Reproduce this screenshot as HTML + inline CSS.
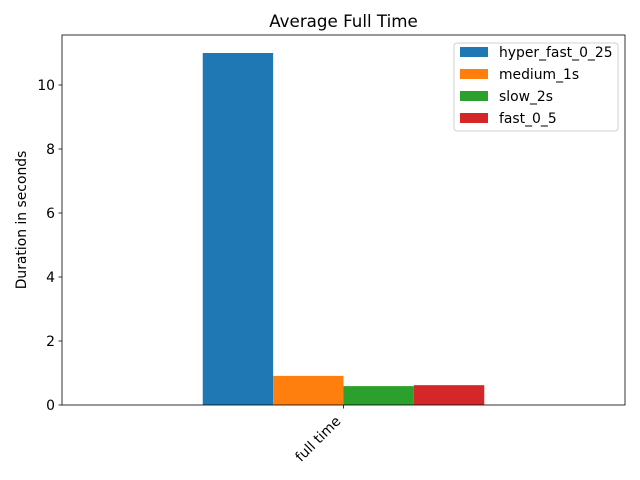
<!DOCTYPE html>
<html><head><meta charset="utf-8"><style>
body{margin:0;background:#fff;}
svg{display:block;font-family:"DejaVu Sans","Liberation Sans",sans-serif;}
</style></head><body>
<svg id="chart" width="640" height="480" viewBox="0 0 640 480">
<rect width="640" height="480" fill="#fff"/>
<text x="343.5" y="27" font-size="16.7" text-anchor="middle">Average Full Time</text>
<text transform="translate(26,220) rotate(-90)" font-size="13.9" text-anchor="middle">Duration in seconds</text>
<g id="bars"></g>
<g id="yticks"></g>
<g id="xticks"></g>
<rect x="62" y="35" width="563" height="370" fill="none" stroke="#000" stroke-width="0.8"/>
<g id="legend"></g>
</svg>
<script>
const categories = ["full time"];
const seriesNames = ["hyper_fast_0_25","medium_1s","slow_2s","fast_0_5"];
const seriesValues = [[11.0],[0.91],[0.59],[0.62]];
const yTicks = [0,2,4,6,8,10];
const colors = ["#1f77b4","#ff7f0e","#2ca02c","#d62728"];

const NS="http://www.w3.org/2000/svg";
const L=62,R=625,T=35,B=405;
const yScale=v=>B-v*32;
const xScale=v=>L+(v+0.5)*(R-L)/categories.length;
const groupW=0.5, barW=groupW/seriesNames.length;
function mk(tag,attrs,parent){const e=document.createElementNS(NS,tag);for(const k in attrs)e.setAttribute(k,attrs[k]);parent.appendChild(e);return e;}
const bars=document.getElementById('bars');
seriesValues.forEach((vals,s)=>{vals.forEach((v,i)=>{
  const x0=xScale(i-groupW/2+s*barW), x1=xScale(i-groupW/2+(s+1)*barW);
  const r=mk('rect',{x:x0,y:yScale(v),width:x1-x0,height:B-yScale(v),fill:colors[s]},bars);
  
  
});});
const yt=document.getElementById('yticks');
yTicks.forEach(t=>{
  const y=yScale(t);
  const l=mk('line',{x1:L-3.5,x2:L,y1:y,y2:y,stroke:'#000','stroke-width':0.8},yt);
  
  
  const tx=mk('text',{x:L-7,y:y+5,'font-size':13.9,'text-anchor':'end'},yt);
  tx.textContent=t;
  
  
});
const xt=document.getElementById('xticks');
categories.forEach((c,i)=>{
  const x=xScale(i);
  const l=mk('line',{x1:x,x2:x,y1:B,y2:B+3.5,stroke:'#000','stroke-width':0.8},xt);
  
  
  const tx=mk('text',{transform:`translate(${x-2},${B+17}) rotate(-45)`,'font-size':13.9,'text-anchor':'end'},xt);
  tx.textContent=c;
  
  
});
const lg=document.getElementById('legend');
mk('rect',{x:454,y:43,width:164,height:88,rx:3,fill:'#fff',stroke:'#ccc','stroke-width':1,opacity:0.9},lg);
seriesNames.forEach((n,s)=>{
  const y=52+s*22;
  const p=mk('rect',{x:460,y:y-5,width:28,height:10,fill:colors[s]},lg);
  
  
  const t=mk('text',{x:499,y:y+5,'font-size':13.9},lg);
  t.textContent=n;
  
  
});
</script>
</body></html>
